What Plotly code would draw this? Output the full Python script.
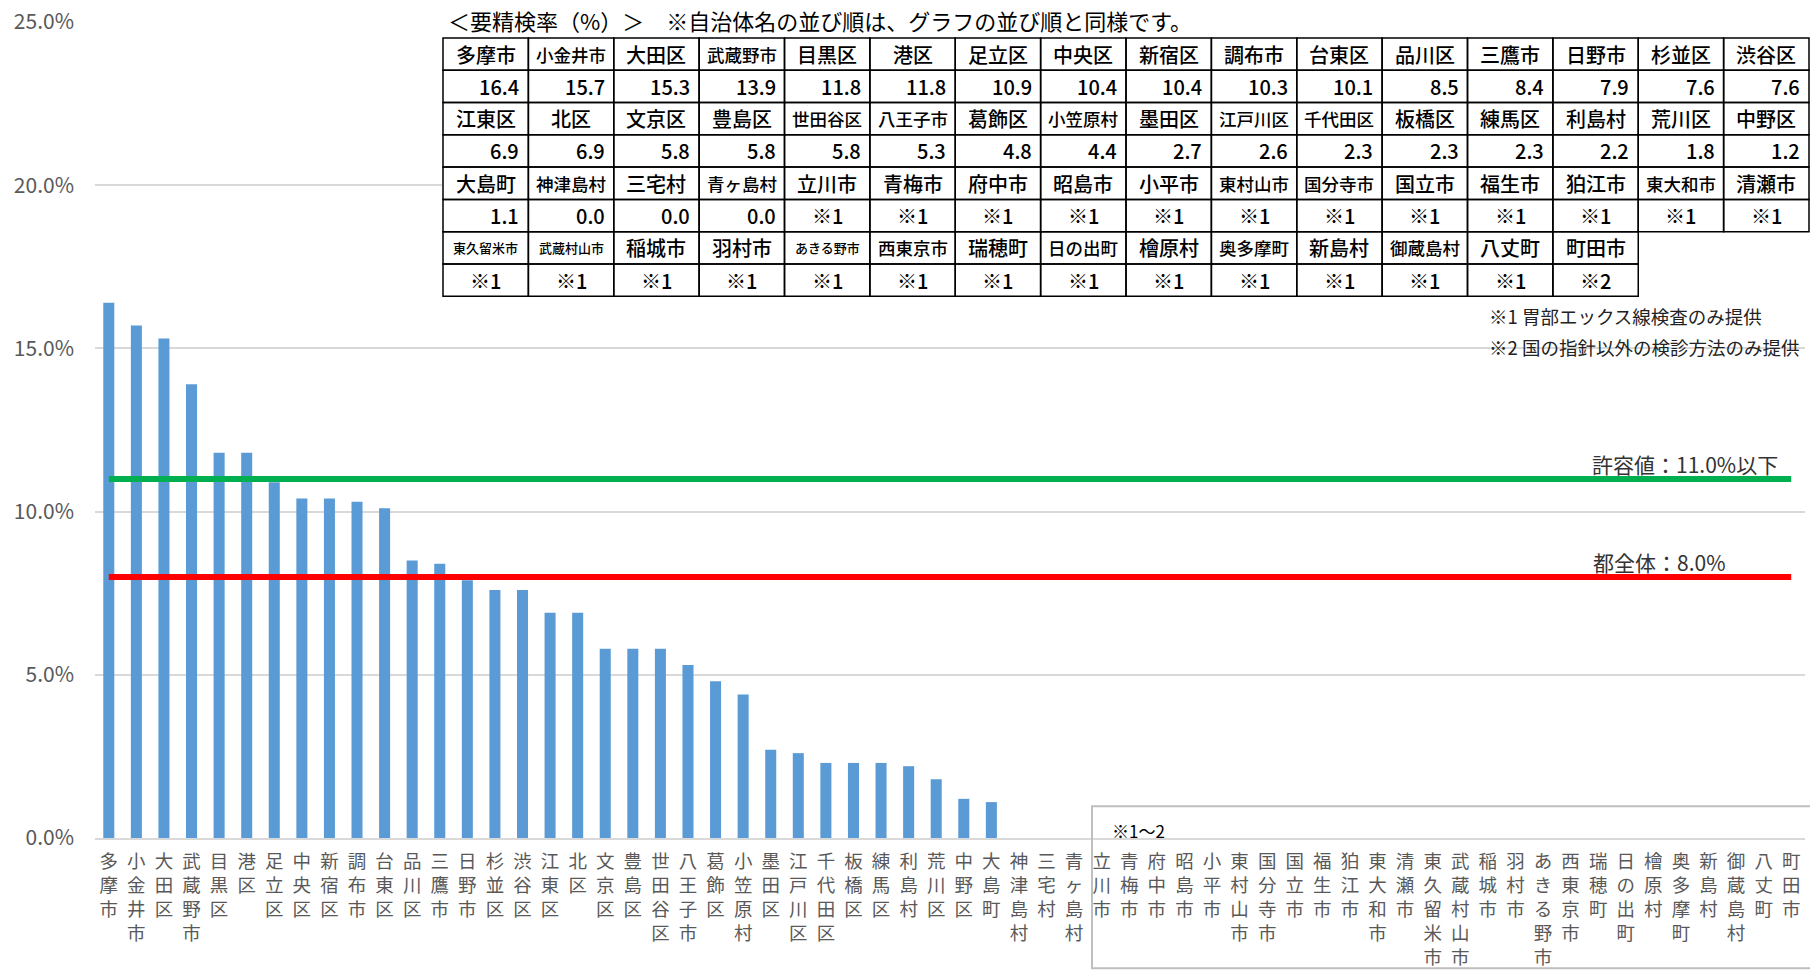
import plotly.graph_objects as go

# ---------------- data ----------------
names = [
    "多摩市", "小金井市", "大田区", "武蔵野市", "目黒区", "港区", "足立区", "中央区",
    "新宿区", "調布市", "台東区", "品川区", "三鷹市", "日野市", "杉並区", "渋谷区",
    "江東区", "北区", "文京区", "豊島区", "世田谷区", "八王子市", "葛飾区", "小笠原村",
    "墨田区", "江戸川区", "千代田区", "板橋区", "練馬区", "利島村", "荒川区", "中野区",
    "大島町", "神津島村", "三宅村", "青ヶ島村", "立川市", "青梅市", "府中市", "昭島市",
    "小平市", "東村山市", "国分寺市", "国立市", "福生市", "狛江市", "東大和市", "清瀬市",
    "東久留米市", "武蔵村山市", "稲城市", "羽村市", "あきる野市", "西東京市", "瑞穂町", "日の出町",
    "檜原村", "奥多摩町", "新島村", "御蔵島村", "八丈町", "町田市",
]
rates = [
    16.4, 15.7, 15.3, 13.9, 11.8, 11.8, 10.9, 10.4, 10.4, 10.3, 10.1, 8.5, 8.4, 7.9, 7.6, 7.6,
    6.9, 6.9, 5.8, 5.8, 5.8, 5.3, 4.8, 4.4, 2.7, 2.6, 2.3, 2.3, 2.3, 2.2, 1.8, 1.2,
    1.1, 0.0, 0.0, 0.0,
] + [None] * 26
notes = [None] * 36 + ["※1"] * 25 + ["※2"]
tolerance = 11.0
tokyo_avg = 8.0
y_ticks = [0, 5, 10, 15, 20, 25]

title_text = "＜要精検率（%）＞　※自治体名の並び順は、グラフの並び順と同様です。"
foot1 = "※1 胃部エックス線検査のみ提供"
foot2 = "※2 国の指針以外の検診方法のみ提供"
tol_label = "許容値：11.0%以下"
avg_label = "都全体：8.0%"
box_label = "※1～2"

# ---------------- layout helpers ----------------
W, H = 1810, 974
L, R, T, B = 95, 1805, 21, 842
FONT = "Noto Sans CJK JP"


def pxx(p):
    return (p - L) / (R - L)


def pxy(p):
    return (B - p) / (B - T)


fig = go.Figure()
fig.add_trace(go.Bar(
    x=names, y=rates, marker=dict(color="#5B9BD5", line=dict(width=0)),
    hoverinfo="x+y",
))
fig.add_trace(go.Scatter(
    x=names, y=[tolerance] * len(names), mode="lines",
    line=dict(color="#00B050", width=6), hoverinfo="skip",
))
fig.add_trace(go.Scatter(
    x=names, y=[tokyo_avg] * len(names), mode="lines",
    line=dict(color="#FF0000", width=6), hoverinfo="skip",
))

shapes = []
annotations = []

# white area behind the table (hides the upper gridlines)
shapes.append(dict(type="rect", xref="paper", yref="paper",
                   x0=pxx(442), x1=pxx(1812), y0=pxy(300), y1=pxy(-2),
                   fillcolor="white", line=dict(width=0), layer="above"))

# table
TX0, TY0 = 443, 37
CW, RH = (1809 - 443) / 16, 32.5
for i, nm in enumerate(names):
    r, c = divmod(i, 16)
    x0 = TX0 + c * CW
    y0 = TY0 + r * 2 * RH
    for k in range(2):
        shapes.append(dict(type="rect", xref="paper", yref="paper",
                           x0=pxx(x0), x1=pxx(x0 + CW),
                           y0=pxy(y0 + (k + 1) * RH), y1=pxy(y0 + k * RH),
                           line=dict(color="black", width=1.5), layer="above"))
    n = len(nm)
    fs = 20 if n <= 3 else (17.5 if n == 4 else 13)
    annotations.append(dict(xref="paper", yref="paper", x=pxx(x0 + CW / 2), y=pxy(y0 + RH / 2),
                            text=nm, showarrow=False, xanchor="center", yanchor="middle",
                            font=dict(family=FONT, size=fs, color="black", weight=500)))
    if rates[i] is not None:
        annotations.append(dict(xref="paper", yref="paper", x=pxx(x0 + CW - 7), y=pxy(y0 + RH * 1.5),
                                text=f"{rates[i]:.1f}", showarrow=False, xanchor="right", yanchor="middle",
                                font=dict(family=FONT, size=20, color="black", weight=500)))
    else:
        annotations.append(dict(xref="paper", yref="paper", x=pxx(x0 + CW / 2), y=pxy(y0 + RH * 1.5),
                                text=notes[i], showarrow=False, xanchor="center", yanchor="middle",
                                font=dict(family=FONT, size=20, color="black", weight=500)))

annotations.append(dict(xref="paper", yref="paper", x=pxx(446), y=pxy(19), text=title_text,
                        showarrow=False, xanchor="left", yanchor="middle",
                        font=dict(family=FONT, size=22, color="black")))
annotations.append(dict(xref="paper", yref="paper", x=pxx(1487), y=pxy(317), text=foot1,
                        showarrow=False, xanchor="left", yanchor="middle",
                        font=dict(family=FONT, size=18.5, color="#222")))
annotations.append(dict(xref="paper", yref="paper", x=pxx(1487), y=pxy(348), text=foot2,
                        showarrow=False, xanchor="left", yanchor="middle",
                        font=dict(family=FONT, size=18.5, color="#222")))
annotations.append(dict(xref="paper", yref="y", x=pxx(1780), y=tolerance, yshift=15, text=tol_label,
                        showarrow=False, xanchor="right", yanchor="middle",
                        font=dict(family=FONT, size=21, color="#333")))
annotations.append(dict(xref="paper", yref="y", x=pxx(1728), y=tokyo_avg, yshift=15, text=avg_label,
                        showarrow=False, xanchor="right", yanchor="middle",
                        font=dict(family=FONT, size=21, color="#333")))

# ※1～2 box
shapes.append(dict(type="rect", xref="paper", yref="paper",
                   x0=pxx(1092), x1=pxx(1812), y0=pxy(973), y1=pxy(810),
                   line=dict(color="#BFBFBF", width=2), layer="above"))
annotations.append(dict(xref="paper", yref="paper", x=pxx(1110), y=pxy(834), text=box_label,
                        showarrow=False, xanchor="left", yanchor="middle",
                        font=dict(family=FONT, size=17, color="black")))

fig.update_layout(
    width=W, height=H,
    margin=dict(l=L, r=W - R, t=T, b=H - B, pad=0),
    plot_bgcolor="white", paper_bgcolor="white",
    showlegend=False, bargap=0.6,
    shapes=shapes, annotations=annotations,
    font=dict(family=FONT),
)
fig.update_xaxes(
    type="category", tickmode="array", tickvals=names,
    ticktext=["<br>".join(list(n)) for n in names],
    tickfont=dict(family=FONT, size=18.5, color="#595959"),
    showline=True, linecolor="#D9D9D9", linewidth=2, showgrid=False,
    ticks="", ticklabelstandoff=6, tickangle=0,
)
fig.update_yaxes(
    range=[0, 25], tickvals=y_ticks, ticktext=[f"{v:.1f}%" for v in y_ticks],
    tickfont=dict(family=FONT, size=21, color="#595959"),
    showgrid=True, gridcolor="#D9D9D9", gridwidth=1.5, zeroline=False,
    ticks="", ticklabelstandoff=20,
)

fig.write_html("out.html", config={"displayModeBar": False},
               post_script="document.body.style.margin='0px';document.body.style.overflow='hidden';")
